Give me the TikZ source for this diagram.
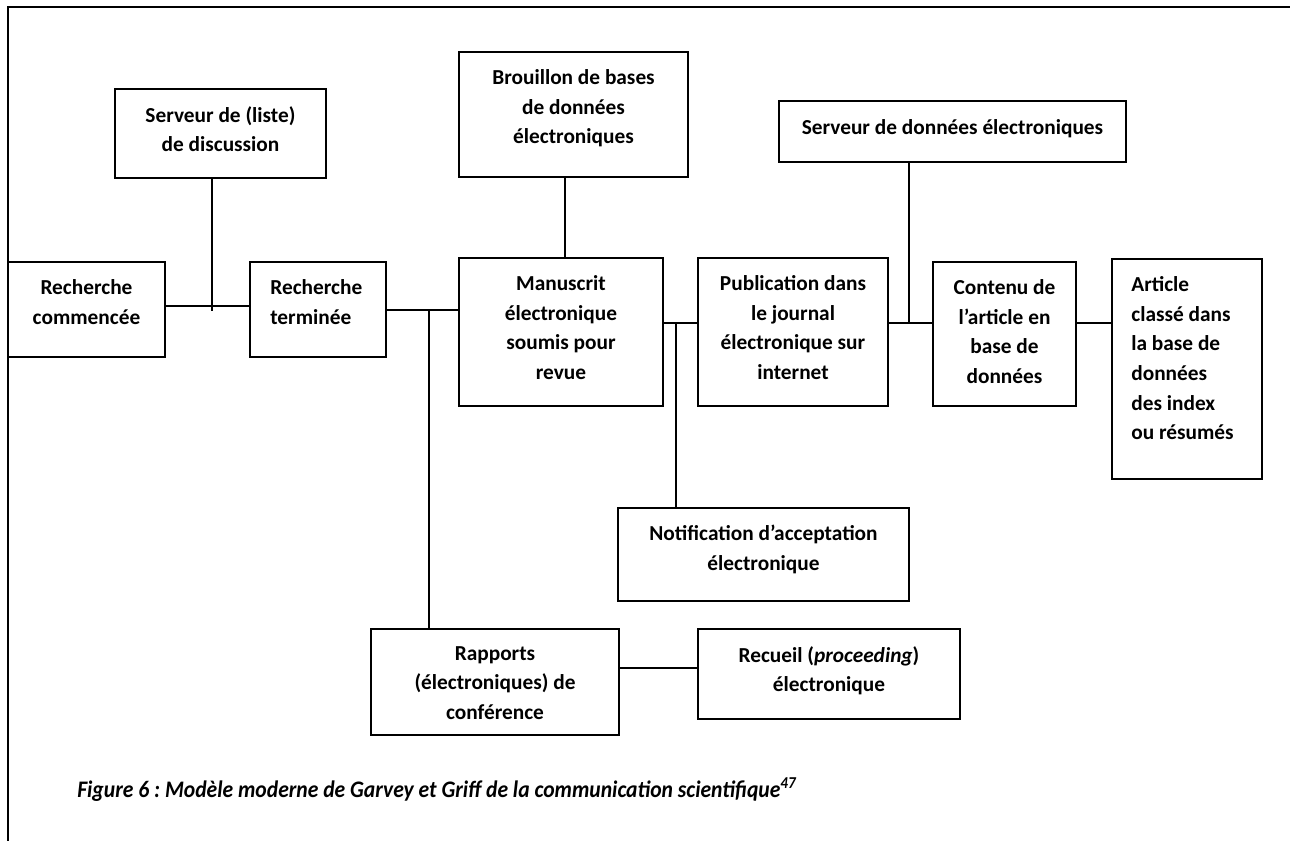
\documentclass[tikz,border=0pt]{standalone}
\usepackage{fontspec}
\setmainfont{Carlito}
\usetikzlibrary{fit}
\frenchspacing
\begin{document}
\begin{tikzpicture}[x=0.75pt,y=-0.75pt,
  box/.style={draw, line width=1.4pt, inner sep=0pt, rectangle},
  wire/.style={line width=1.4pt},
  lbl/.style={font=\bfseries\fontsize{16}{22.3}\selectfont, inner sep=0pt,
    anchor=north, align=center, execute at begin node=\rule{0pt}{12pt}},
  lbll/.style={lbl, anchor=north west, align=left}]
\useasboundingbox (0,0) rectangle (1290,841);
\fill[white] (0,0) rectangle (1290,841);

% page frame (top and left edges only)
\draw[wire] (1290,7) -- (8,7) -- (8,841);

% boxes
\node[box, fit={(8,262) (165,357)}]    (a) {};
\node[box, fit={(250,262) (386,357)}]  (b) {};
\node[box, fit={(115,89) (326,178)}]   (c) {};
\node[box, fit={(459,52) (688,177)}]   (d) {};
\node[box, fit={(459,258) (663,406)}]  (e) {};
\node[box, fit={(698,258) (888,406)}]  (f) {};
\node[box, fit={(779,101) (1126,162)}] (g) {};
\node[box, fit={(933,262) (1076,406)}] (h) {};
\node[box, fit={(1112,259) (1262,479)}] (i) {};
\node[box, fit={(618,508) (909,601)}]  (j) {};
\node[box, fit={(371,629) (619,735)}]  (k) {};
\node[box, fit={(698,629) (960,719)}]  (l) {};

% box texts
\node[lbl]  (ta) at ([yshift=-13.5pt]a.north) {Recherche\\commencée};
\node[lbll] (tb) at ([xshift=15.75pt,yshift=-13.5pt]b.north west) {Recherche\\terminée};
\node[lbl]  (tc) at ([yshift=-13.5pt]c.north) {Serveur de (liste)\\de discussion};
\node[lbl]  (td) at ([yshift=-13.5pt]d.north) {Brouillon de bases\\de données\\électroniques};
\node[lbl]  (te) at ([yshift=-13.5pt]e.north) {Manuscrit\\électronique\\soumis pour\\revue};
\node[lbl]  (tf) at ([yshift=-13.5pt]f.north) {Publication dans\\le journal\\électronique sur\\internet};
\node[lbl]  (tg) at ([yshift=-13.5pt]g.north) {Serveur de données électroniques};
\node[lbl]  (th) at ([yshift=-13.5pt]h.north) {Contenu de\\l’article en\\base de\\données};
\node[lbll] (ti) at ([xshift=15pt,yshift=-13.5pt]i.north west) {Article\\classé dans\\la base de\\données\\des index\\ou résumés};
\node[lbl]  (tj) at ([yshift=-13.5pt]j.north) {Notification d’acceptation\\électronique};
\node[lbl]  (tk) at ([yshift=-13.5pt]k.north) {Rapports\\(électroniques) de\\conférence};
\node[lbl]  (tl) at ([yshift=-13.5pt]l.north) {Recueil (\textit{proceeding})\\électronique};

% junction points
\coordinate (jab) at (212,306);
\coordinate (cend) at (212,311);
\coordinate (jbe) at (429,310);
\coordinate (jde) at (565,258);
\coordinate (jef) at (676,323);
\coordinate (jfh) at (909,323);
\coordinate (jkl) at (619,668);

% connectors
\draw[wire] (a.east |- jab) -- (b.west |- jab);
\draw[wire] (c.south -| cend) -- (cend);
\draw[wire] (b.east |- jbe) -- (e.west |- jbe);
\draw[wire] (jbe) -- (k.north -| jbe);
\draw[wire] (d.south -| jde) -- (e.north -| jde);
\draw[wire] (e.east |- jef) -- (f.west |- jef);
\draw[wire] (jef) -- (j.north -| jef);
\draw[wire] (f.east |- jfh) -- (h.west |- jfh);
\draw[wire] (g.south -| jfh) -- (jfh);
\draw[wire] (h.east |- jfh) -- (i.west |- jfh);
\draw[wire] (k.east |- jkl) -- (l.west |- jkl);

% caption, set slightly condensed
\node[anchor=base west, inner sep=0pt,
  font=\bfseries\itshape\fontsize{17.8}{22}\selectfont] (cap) at (77,797)
  {\scalebox{0.91}[1]{Figure 6 : Modèle moderne de Garvey et Griff de la communication scientifique\textsuperscript{47}}};
\end{tikzpicture}
\end{document}
